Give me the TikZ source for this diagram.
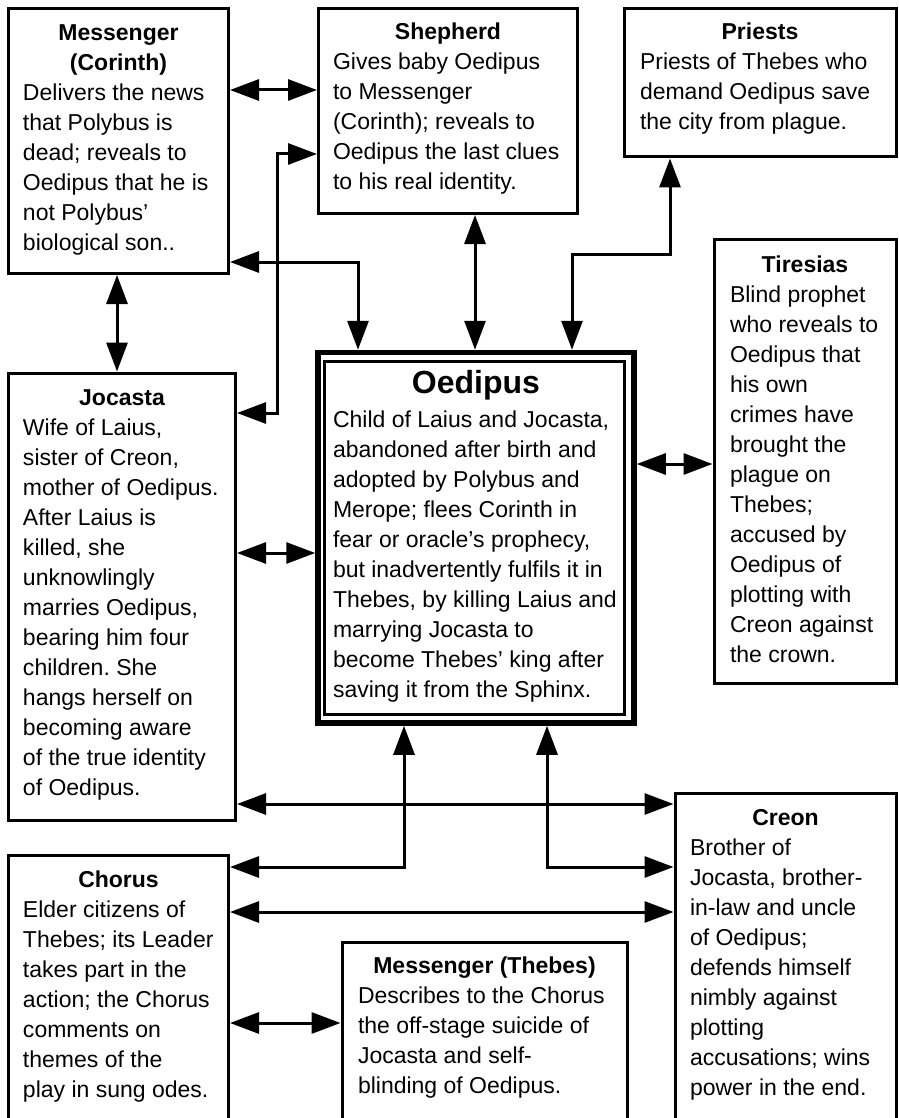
\documentclass[tikz,border=0pt]{standalone}
\usepackage{fontspec}
\setmainfont{Liberation Sans}
\usetikzlibrary{arrows.meta}
\frenchspacing
\newcommand{\bodyfont}{\fontsize{23}{30}\selectfont}
\newcommand{\rolebox}[3]{\parbox[t]{#1}{\bodyfont\frenchspacing\centering\bfseries #2\par\raggedright\mdseries #3}}
\tikzset{
  box/.style={draw, line width=3pt, rectangle, inner sep=0pt},
  heavybox/.style={draw, line width=5.5pt, rectangle, inner sep=0pt},
  txt/.style={inner sep=0pt, outer sep=0pt, anchor=base west},
  link/.style={line width=3pt, {Triangle[length=29pt,width=21pt]}-{Triangle[length=29pt,width=21pt]}},
}
\begin{document}
\begin{tikzpicture}[x=1pt, y=-1pt]
\useasboundingbox (0,0) rectangle (898,1118);
\fill[white] (0,0) rectangle (898,1118);

% boxes (stroke centres)
\node[box, minimum width=220pt, minimum height=265pt] (mc) at (118.5,141) {};
\node[box, minimum width=259pt, minimum height=205pt] (sh) at (448,111) {};
\node[box, minimum width=272pt, minimum height=148.5pt] (pr) at (760,82.75) {};
\node[box, minimum width=182pt, minimum height=444pt] (ti) at (805,461) {};
\node[box, minimum width=227pt, minimum height=447.5pt] (jo) at (122,596.75) {};
\node[heavybox, minimum width=316pt, minimum height=370.5pt] (oe) at (476,537.75) {};
\node[box, minimum width=300pt, minimum height=353pt] (oein) at (474.5,538) {};
\node[box, minimum width=220pt, minimum height=272pt] (ch) at (118.5,991) {};
\node[box, minimum width=285pt, minimum height=185pt] (mt) at (484.5,1034.5) {};
\node[box, minimum width=221pt, minimum height=334pt] (cr) at (785.5,960) {};

% texts
\node[txt] (mc-t) at (23,41) {\rolebox{191pt}{Messenger\\(Corinth)}{Delivers the news\\that Polybus is\\dead; reveals to\\Oedipus that he is\\not Polybus’\\biological son..}};
\node[txt] (sh-t) at (333,40) {\rolebox{230pt}{Shepherd}{Gives baby Oedipus\\to Messenger\\(Corinth); reveals to\\Oedipus the last clues\\to his real identity.}};
\node[txt] (pr-t) at (640,40) {\rolebox{240pt}{Priests}{Priests of Thebes who\\demand Oedipus save\\the city from plague.}};
\node[txt] (ti-t) at (730,272) {\rolebox{150pt}{Tiresias}{Blind prophet\\who reveals to\\Oedipus that\\his own\\crimes have\\brought the\\plague on\\Thebes;\\accused by\\Oedipus of\\plotting with\\Creon against\\the crown.}};
\node[txt] (oe-t) at (333,393) {\parbox[t]{286pt}{\frenchspacing\centering\fontsize{32}{34}\selectfont\bfseries Oedipus\par\vspace{4pt}\bodyfont\raggedright\mdseries Child of Laius and Jocasta,\\abandoned after birth and\\adopted by Polybus and\\Merope; flees Corinth in\\fear or oracle’s prophecy,\\but inadvertently fulfils it in\\Thebes, by killing Laius and\\marrying Jocasta to\\become Thebes’ king after\\saving it from the Sphinx.}};
\node[txt] (jo-t) at (23,405) {\rolebox{198pt}{Jocasta}{Wife of Laius,\\sister of Creon,\\mother of Oedipus.\\After Laius is\\killed, she\\unknowlingly\\marries Oedipus,\\bearing him four\\children. She\\hangs herself on\\becoming aware\\of the true identity\\of Oedipus.}};
\node[txt] (ch-t) at (23,887) {\rolebox{191pt}{Chorus}{Elder citizens of\\Thebes; its Leader\\takes part in the\\action; the Chorus\\comments on\\themes of the\\play in sung odes.}};
\node[txt] (mt-t) at (358,973) {\rolebox{253pt}{Messenger (Thebes)}{Describes to the Chorus\\the off-stage suicide of\\Jocasta and self-\\blinding of Oedipus.}};
\node[txt] (cr-t) at (690,825) {\rolebox{191pt}{Creon}{Brother of\\Jocasta, brother-\\in-law and uncle\\of Oedipus;\\defends himself\\nimbly against\\plotting\\accusations; wins\\power in the end.}};

% lanes
\coordinate (l90) at (0,90);
\coordinate (l262) at (0,262);
\coordinate (l413) at (0,413);
\coordinate (l464) at (0,464);
\coordinate (l553) at (0,553);
\coordinate (l804) at (0,804);
\coordinate (l867) at (0,867);
\coordinate (l912) at (0,912);
\coordinate (l1023) at (0,1023);
\coordinate (v117) at (117,0);
\coordinate (v358) at (358,0);
\coordinate (v404) at (404,0);
\coordinate (v475) at (475,0);
\coordinate (v547) at (547,0);
\coordinate (v670) at (670,0);
\coordinate (b2) at (277,154);
\coordinate (b6) at (572,254);

% connectors
\draw[link] (mc.east |- l90) -- (sh.west |- l90);
\draw[link] (jo.east |- l413) -| (b2) -- (sh.west |- b2);
\draw[link] (mc.east |- l262) -| (oe.north -| v358);
\draw[link] (mc.south -| v117) -- (jo.north -| v117);
\draw[link] (sh.south -| v475) -- (oe.north -| v475);
\draw[link] (pr.south -| v670) |- (b6) -- (oe.north -| b6);
\draw[link] (oe.east |- l464) -- (ti.west |- l464);
\draw[link] (jo.east |- l553) -- (oe.west |- l553);
\draw[link] (jo.east |- l804) -- (cr.west |- l804);
\draw[link] (oe.south -| v404) |- (ch.east |- l867);
\draw[link] (oe.south -| v547) |- (cr.west |- l867);
\draw[link] (ch.east |- l912) -- (cr.west |- l912);
\draw[link] (ch.east |- l1023) -- (mt.west |- l1023);
\end{tikzpicture}
\end{document}
